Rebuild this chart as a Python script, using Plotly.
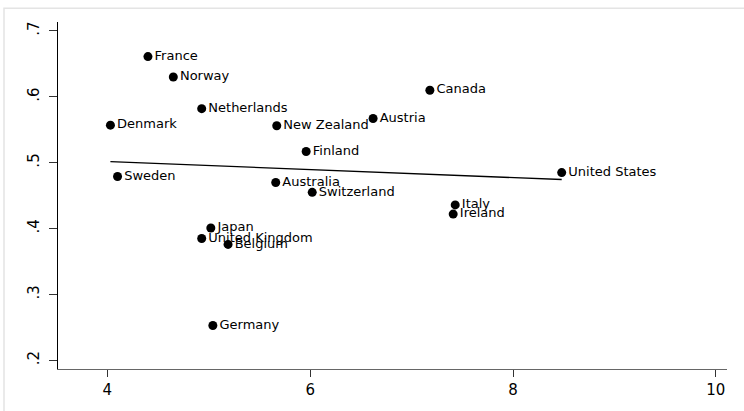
import plotly.graph_objects as go

# Country-level observations
countries = ["France", "Norway", "Netherlands", "Denmark", "Sweden", "Japan",
             "United Kingdom", "Belgium", "Germany", "New Zealand", "Austria",
             "Canada", "Finland", "Australia", "Switzerland", "Italy", "Ireland",
             "United States"]
x_vals = [4.40, 4.65, 4.93, 4.03, 4.10, 5.02, 4.93, 5.19, 5.04, 5.67, 6.62,
          7.18, 5.96, 5.66, 6.02, 7.43, 7.41, 8.48]
y_vals = [0.661, 0.630, 0.582, 0.557, 0.479, 0.401, 0.385, 0.376, 0.253, 0.556,
          0.567, 0.610, 0.517, 0.470, 0.455, 0.436, 0.422, 0.485]

# Linear fit endpoints
fit_x = [4.03, 8.48]
fit_y = [0.5015, 0.4745]

x_ticks = [4, 6, 8, 10]
y_ticks = [0.2, 0.3, 0.4, 0.5, 0.6, 0.7]
y_tick_text = [".2", ".3", ".4", ".5", ".6", ".7"]

FONT = "DejaVu Sans, Verdana, sans-serif"

fig = go.Figure()
fig.add_trace(go.Scatter(
    x=fit_x, y=fit_y, mode="lines",
    line=dict(color="black", width=1.3),
    hoverinfo="skip", showlegend=False,
))
fig.add_trace(go.Scatter(
    x=x_vals, y=y_vals, mode="markers+text",
    text=countries, textposition="middle right",
    textfont=dict(family=FONT, size=13, color="black"),
    marker=dict(color="black", size=9, symbol="circle"),
    showlegend=False,
))

# light outer frame of the graph region
fig.add_shape(type="rect", xref="paper", yref="paper",
              x0=(4 - 58) / 669, x1=1.2, y0=-0.2, y1=1 + 14 / 351,
              line=dict(color="#e4e4e4", width=1.5), layer="below")

fig.update_layout(
    width=744, height=411, autosize=False,
    margin=dict(l=58, r=17, t=22, b=38),
    paper_bgcolor="white", plot_bgcolor="white",
    font=dict(family=FONT, color="black"),
    xaxis=dict(
        range=[3.513, 10.11], tickvals=x_ticks,
        showgrid=False, zeroline=False,
        showline=True, linecolor="#666666", linewidth=1.2,
        ticks="outside", ticklen=7, tickcolor="#333333", tickwidth=1,
        tickfont=dict(size=15, family=FONT, color="black"),
    ),
    yaxis=dict(
        range=[0.187, 0.7135], tickvals=y_ticks, ticktext=y_tick_text,
        showgrid=False, zeroline=False,
        showline=True, linecolor="black", linewidth=1.2,
        ticks="outside", ticklen=8, tickcolor="#333333", tickwidth=1,
        tickangle=-90, ticklabelstandoff=4,
        tickfont=dict(size=15, family=FONT, color="black"),
    ),
)

fig.write_html("out.html")
